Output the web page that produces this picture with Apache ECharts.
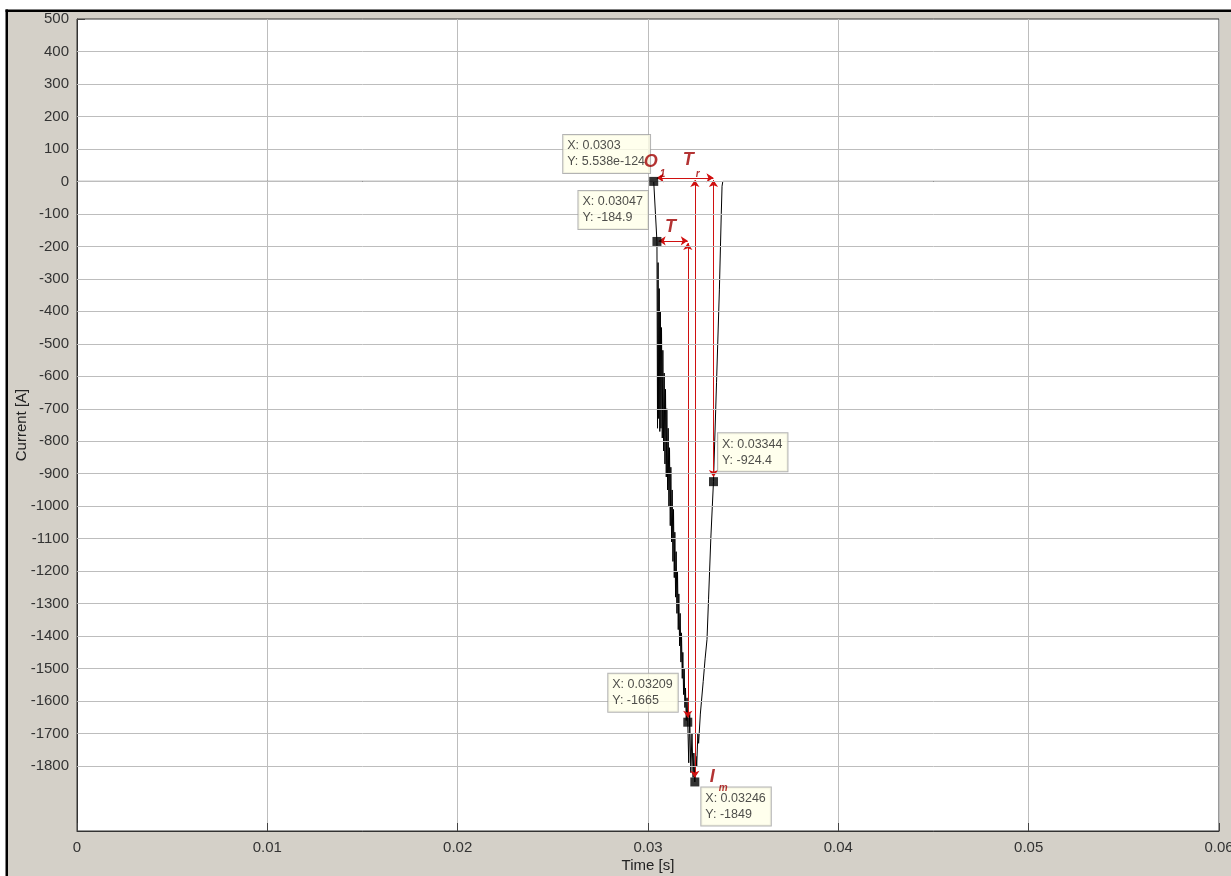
<!DOCTYPE html>
<html>
<head>
<meta charset="utf-8">
<script src="https://cdn.jsdelivr.net/npm/echarts@6/dist/echarts.min.js"></script>
<style>html,body{margin:0;padding:0;background:#fff;}#c{width:1231px;height:876px;}</style>
</head>
<body>
<div id="c"></div>
<script>
// ---- data ----
const timeS = [0, 0.0303, 0.03047, 0.03050, 0.03053, 0.03056, 0.03059, 0.03062, 0.03065, 0.03068,
  0.03071, 0.03075, 0.03078, 0.03082, 0.03085, 0.03089, 0.03092, 0.03096, 0.03099, 0.03103,
  0.03106, 0.03110, 0.03113, 0.03117, 0.03120, 0.03124, 0.03127, 0.03131, 0.03134, 0.03138,
  0.03141, 0.03145, 0.03148, 0.03152, 0.03155, 0.03159, 0.03162, 0.03166, 0.03169, 0.03173,
  0.03176, 0.03180, 0.03183, 0.03187, 0.03190, 0.03194, 0.03197, 0.03201, 0.03205, 0.03209,
  0.03214, 0.03219, 0.03225, 0.03231, 0.03237, 0.03241, 0.03246,
  0.03252, 0.03256, 0.03262, 0.03266, 0.03275, 0.03290, 0.03300, 0.03310, 0.03318, 0.03330,
  0.03344, 0.03360, 0.03375, 0.03385, 0.03389, 0.03393, 0.06];
const currentA = [0, 0, -184.9, -760, -250, -730, -330, -770, -400, -760,
  -450, -790, -520, -830, -590, -870, -640, -910, -700, -950,
  -760, -1000, -820, -1060, -880, -1110, -950, -1170, -1010, -1220,
  -1080, -1280, -1140, -1330, -1200, -1380, -1270, -1430, -1330, -1480,
  -1390, -1530, -1450, -1580, -1500, -1620, -1560, -1660, -1590, -1665,
  -1790, -1640, -1820, -1700, -1835, -1760, -1849,
  -1770, -1800, -1700, -1730, -1640, -1540, -1470, -1410, -1288, -1100,
  -924.4, -620, -334, -100, -15, 0, 0];

// data tips
const tipX = ['0.0303', '0.03047', '0.03209', '0.03246', '0.03344'];
const tipY = ['5.538e-124', '-184.9', '-1665', '-1849', '-924.4'];

// axis ticks
const yTicks = [-1800, -1700, -1600, -1500, -1400, -1300, -1200, -1100, -1000, -900, -800, -700,
  -600, -500, -400, -300, -200, -100, 0, 100, 200, 300, 400, 500];
const xTicks = [0, 0.01, 0.02, 0.03, 0.04, 0.05, 0.06];

// annotation arrows [x1, y1, x2, y2]
const arrowTr = [0.03046, 11, 0.03344, 11];
const arrowT = [0.03056, -183, 0.03209, -183];
const arrowV1 = [0.03209, -190, 0.03209, -1651];
const arrowV2 = [0.03246, 4, 0.03246, -1836];
const arrowV3 = [0.03344, 4, 0.03344, -910];

// annotation letters: [main, subscript, anchor tip index]
const annotMain = ['O', 'T', 'T', 'I'];
const annotSub = ['1', 'r', '', 'm'];
const annotAnchor = [0, 0, 1, 3];
// ---------------------------------------

const FONT = "'Liberation Sans', Arial, sans-serif";
const chart = echarts.init(document.getElementById('c'), null, {renderer: 'canvas'});

const lineData = timeS.map((t, i) => [t, currentA[i]]);
const tipPts = tipX.map((x, i) => [parseFloat(x), parseFloat(tipY[i])]);

// label offsets (layout) for the data tips
const tipPos = [[-86, -42], [-74, -46], [-75, -44], [11, 10], [9, -44]];
const tipData = tipPts.map((p, i) => ({
  value: p,
  label: {position: tipPos[i]}
}));

const mainPos = [[-10, -28], [29, -30], [8, -23], [15, -14]];
const subPos = [[6, -12], [42, -12], [0, 0], [24, 1]];
const annotMainData = annotMain.map((s, i) => ({
  value: tipPts[annotAnchor[i]], name: s, label: {position: mainPos[i]}
}));
const annotSubData = annotSub.map((s, i) => ({
  value: tipPts[annotAnchor[i]], name: s, label: {position: subPos[i]}
})).filter(d => d.name);

const arrows = [arrowTr, arrowT, arrowV1, arrowV2, arrowV3].map(a => ({coords: [[a[0], a[1]], [a[2], a[3]]]}));

const RED = '#d01010';
const DRED = '#a00000';

chart.setOption({
  animation: false,
  backgroundColor: '#d4d0c8',
  graphic: [
    {type: 'rect', shape: {x: 0, y: 0, width: 6, height: 876}, style: {fill: '#fff'}, silent: true},
    {type: 'rect', shape: {x: 0, y: 0, width: 1231, height: 10}, style: {fill: '#fff'}, silent: true},
    {type: 'rect', shape: {x: 5.5, y: 9.5, width: 2.5, height: 870}, style: {fill: '#000'}, silent: true},
    {type: 'rect', shape: {x: 5.5, y: 9.5, width: 1230, height: 2.5}, style: {fill: '#000'}, silent: true}
  ],
  grid: {left: 77, top: 19, width: 1142, height: 812, containLabel: false, outerBoundsMode: 'none',
    show: true, backgroundColor: '#fff', borderColor: '#333', borderWidth: 1},
  xAxis: {
    type: 'value', min: 0, max: 0.06, interval: 0.01,
    name: 'Time [s]', nameLocation: 'middle', nameGap: 27, nameMoveOverlap: false,
    nameTextStyle: {fontFamily: FONT, fontSize: 15, color: '#222'},
    axisLine: {show: true, onZero: false, lineStyle: {color: '#333'}},
    axisTick: {show: true, inside: true, length: 8, lineStyle: {color: '#444'}},
    axisLabel: {customValues: xTicks, fontFamily: FONT, fontSize: 15, color: '#333', margin: 9,
      formatter: v => String(Math.round(v * 100) / 100)},
    splitLine: {show: true, lineStyle: {color: '#bdbdbd', width: 1}}
  },
  yAxis: {
    type: 'value', min: -2000, max: 500, interval: 100,
    name: 'Current [A]', nameLocation: 'middle', nameGap: 48, nameMoveOverlap: false,
    nameTextStyle: {fontFamily: FONT, fontSize: 15, color: '#222'},
    axisLine: {show: true, onZero: false, lineStyle: {color: '#333'}},
    axisTick: {show: true, inside: true, length: 8, customValues: yTicks, lineStyle: {color: '#444'}},
    axisLabel: {customValues: yTicks, fontFamily: FONT, fontSize: 15, color: '#333', margin: 8,
      formatter: v => String(v)},
    splitLine: {show: false}
  },
  series: [
    {
      name: 'ygrid', type: 'line', data: [[0, 0]], showSymbol: false, silent: true, z: 1,
      lineStyle: {opacity: 0},
      markLine: {
        silent: true, symbol: 'none', animation: false, label: {show: false},
        lineStyle: {color: '#bdbdbd', type: 'solid', width: 1},
        data: yTicks.filter(v => v !== 500).map(v => ({yAxis: v}))
      }
    },
    {
      name: 'Current', type: 'line', data: lineData, showSymbol: false, z: 3,
      lineStyle: {color: '#000', width: 1}, clip: true
    },
    {
      name: 'arrows', type: 'lines', coordinateSystem: 'cartesian2d', z: 4,
      symbol: ['arrow', 'arrow'], symbolSize: 7,
      lineStyle: {color: RED, width: 1, opacity: 1},
      data: arrows
    },
    {
      name: 'tips', type: 'scatter', data: tipData, symbol: 'rect', symbolSize: 9, z: 5,
      itemStyle: {color: '#000'},
      label: {
        show: true, fontFamily: FONT, fontSize: 12.5, color: '#222', lineHeight: 16,
        backgroundColor: '#ffffe8', borderColor: '#a0a0a0', borderWidth: 1, padding: [3, 5, 3, 4],
        formatter: p => 'X: ' + tipX[p.dataIndex] + '\nY: ' + tipY[p.dataIndex]
      }
    },
    {
      name: 'annotMain', type: 'scatter', data: annotMainData, symbolSize: 0, z: 6, silent: true,
      label: {show: true, formatter: p => p.name, fontFamily: FONT, fontSize: 18, fontWeight: 'bold', fontStyle: 'italic', color: DRED}
    },
    {
      name: 'annotSub', type: 'scatter', data: annotSubData, symbolSize: 0, z: 6, silent: true,
      label: {show: true, formatter: p => p.name, fontFamily: FONT, fontSize: 10, fontWeight: 'bold', fontStyle: 'italic', color: DRED}
    }
  ]
});
</script>
</body>
</html>
